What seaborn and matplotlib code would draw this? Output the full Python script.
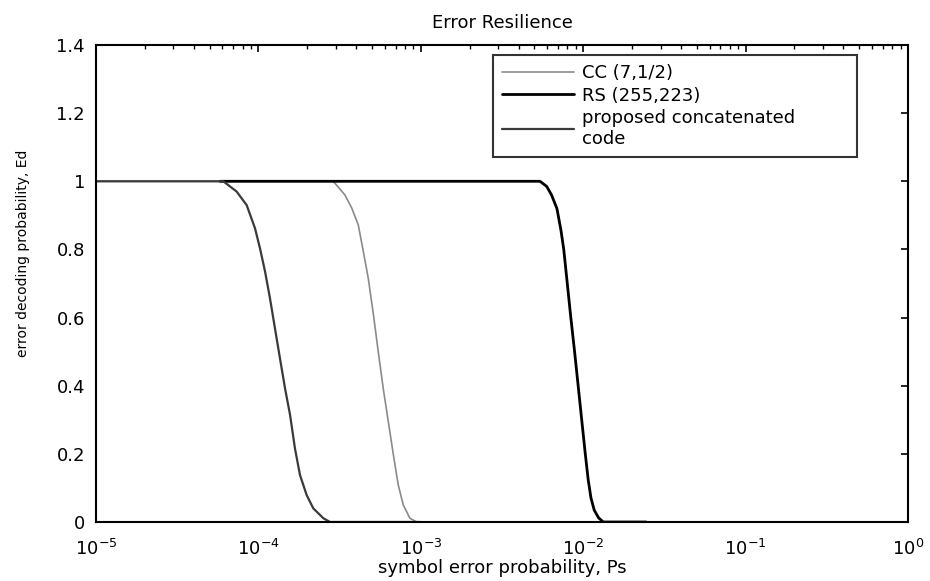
import matplotlib
matplotlib.use("Agg")
import matplotlib.pyplot as plt
import matplotlib.ticker as mticker
import numpy as np
import pandas as pd
import seaborn as sns

# ---- data ----
cc_ps = [1e-5, 2.89e-4, 3.41e-4, 3.76e-4, 4.12e-4, 4.43e-4, 4.75e-4, 5.11e-4,
         5.47e-4, 5.87e-4, 6.31e-4, 6.78e-4, 7.26e-4, 7.80e-4, 8.57e-4, 9.44e-4,
         2.13e-3]
cc_ed = [1.0, 1.0, 0.960, 0.921, 0.872, 0.793, 0.715, 0.608,
         0.500, 0.392, 0.294, 0.197, 0.109, 0.050, 0.011, 0.0,
         0.0]

rs_ps = [5.8e-5, 5.42e-3, 5.96e-3, 6.38e-3, 6.89e-3, 7.29e-3, 7.59e-3, 7.98e-3,
         8.39e-3, 8.85e-3, 9.31e-3, 9.79e-3, 1.030e-2, 1.074e-2, 1.117e-2,
         1.169e-2, 1.245e-2, 1.330e-2, 2.44e-2]
rs_ed = [1.0, 1.0, 0.985, 0.960, 0.920, 0.857, 0.800, 0.700,
         0.600, 0.500, 0.400, 0.300, 0.200, 0.123, 0.070,
         0.035, 0.012, 0.0, 0.0]

pc_ps = [1e-5, 6.08e-5, 7.34e-5, 8.47e-5, 9.53e-5, 1.023e-4, 1.099e-4, 1.178e-4,
         1.265e-4, 1.358e-4, 1.459e-4, 1.567e-4, 1.679e-4, 1.803e-4, 1.982e-4,
         2.178e-4, 2.512e-4, 2.761e-4, 1.0e-3]
pc_ed = [1.0, 1.0, 0.970, 0.930, 0.862, 0.803, 0.735, 0.657,
         0.568, 0.480, 0.392, 0.314, 0.216, 0.138, 0.079,
         0.040, 0.011, 0.0, 0.0]

labels = ["CC (7,1/2)", "RS (255,223)", "proposed concatenated\ncode"]
colors = ["#8a8a8a", "#000000", "#3a3a3a"]
widths = [1.2, 2.0, 1.6]

yticks = [0, 0.2, 0.4, 0.6, 0.8, 1.0, 1.2, 1.4]
xticks = [1e-5, 1e-4, 1e-3, 1e-2, 1e-1, 1e0]

# ---- plotting ----
sns.set_style("white")
plt.rcParams["font.family"] = ["DejaVu Sans"]
plt.rcParams["mathtext.fontset"] = "dejavusans"
plt.rcParams["text.color"] = "black"
plt.rcParams["axes.labelcolor"] = "black"
plt.rcParams["xtick.color"] = "black"
plt.rcParams["ytick.color"] = "black"

fig = plt.figure(figsize=(9.3, 5.81), dpi=100)
ax = fig.add_axes([96 / 930, 59 / 581, 812 / 930, 477 / 581])

series = [(cc_ps, cc_ed), (rs_ps, rs_ed), (pc_ps, pc_ed)]
for (xs, ys), lab, col, lw in zip(series, labels, colors, widths):
    df = pd.DataFrame({"Ps": xs, "Ed": ys})
    sns.lineplot(data=df, x="Ps", y="Ed", ax=ax, color=col, linewidth=lw,
                 label=lab, sort=False, estimator=None)

ax.set_xscale("log")
ax.set_xlim(1e-5, 1e0)
ax.set_ylim(0, 1.4)
ax.set_xticks(xticks)
ax.set_yticks(yticks)
ax.yaxis.set_major_formatter(mticker.FormatStrFormatter("%g"))
ax.xaxis.set_minor_locator(mticker.LogLocator(base=10, subs=np.arange(2, 10), numticks=20))

ax.tick_params(axis="both", which="major", direction="in", length=5, width=1.2,
               top=True, right=True, labelsize=13, color="black", labelcolor="black")
ax.tick_params(axis="x", which="major", pad=12)
ax.tick_params(axis="y", which="major", pad=8)
ax.tick_params(axis="both", which="minor", direction="in", length=3, width=1.0,
               top=True, right=True, color="black")
for s in ax.spines.values():
    s.set_color("black")
    s.set_linewidth(1.5)

ax.set_title("Error Resilience", fontsize=13, pad=12, color="black")
ax.set_xlabel("symbol error probability, Ps", fontsize=13, labelpad=0)
ax.set_ylabel("error decoding probability, Ed", fontsize=10)
ax.yaxis.set_label_coords(-0.081, 0.564)

leg = ax.legend(loc="upper left", bbox_to_anchor=(0.489, 0.0, 0.448, 0.979),
                mode="expand", fontsize=13,
                frameon=True, fancybox=False, handlelength=4.0, borderpad=0.5,
                labelspacing=0.25, handletextpad=0.4, borderaxespad=0.0)
leg.get_frame().set_edgecolor("black")
leg.get_frame().set_linewidth(1.5)
for t in leg.get_texts():
    t.set_color("black")

fig.savefig("out.png", dpi=100)
